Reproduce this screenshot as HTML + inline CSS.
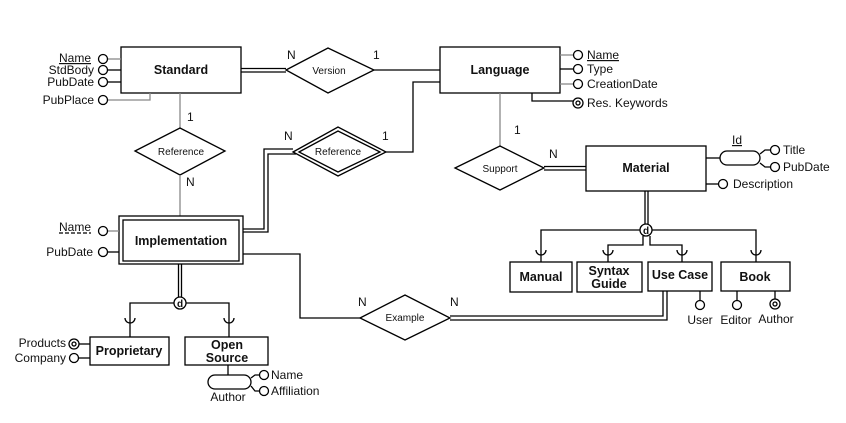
<!DOCTYPE html>
<html><head><meta charset="utf-8"><style>
html,body{margin:0;padding:0;background:#fff;}
svg{display:block;}
text{font-family:"Liberation Sans",Arial,sans-serif;fill:#111;}
.b{font-weight:bold;font-size:12.5px;}
.s{font-size:12px;}
.d{font-size:10px;}
</style></head><body>
<svg width="846" height="423" viewBox="0 0 846 423" xmlns="http://www.w3.org/2000/svg">
<g fill="none" stroke="#000" stroke-width="1.3">
<rect x="121" y="47" width="120" height="46"/>
<line x1="108" y1="59" x2="121" y2="59" stroke="#888"/>
<line x1="108" y1="70" x2="121" y2="70"/>
<line x1="108" y1="82" x2="121" y2="82"/>
<polyline points="108,100 150,100 150,93" stroke="#888"/>
<circle cx="103" cy="59" r="4.5"/><circle cx="103" cy="70" r="4.5"/><circle cx="103" cy="82" r="4.5"/><circle cx="103" cy="100" r="4.5"/>
<polygon points="286,70 328,48 374,70 328,93"/>
<line x1="241" y1="68.5" x2="286" y2="68.5"/><line x1="241" y1="72" x2="286" y2="72"/>
<line x1="374" y1="70" x2="440" y2="70"/>
<rect x="440" y="47" width="120" height="46"/>
<line x1="560" y1="55" x2="574" y2="55" stroke="#888"/>
<line x1="560" y1="69" x2="574" y2="69"/>
<line x1="560" y1="84" x2="574" y2="84" stroke="#888"/>
<polyline points="532,93 532,101 573,101"/>
<circle cx="578" cy="55" r="4.5"/><circle cx="578" cy="69" r="4.5"/><circle cx="578" cy="84" r="4.5"/>
<circle cx="578" cy="103" r="5"/><circle cx="578" cy="103" r="2"/>
<line x1="500" y1="93" x2="500" y2="146" stroke="#888"/>
<polygon points="455,168 500,146 544,168 500,190"/>
<line x1="544" y1="166.5" x2="586" y2="166.5"/><line x1="544" y1="170" x2="586" y2="170"/>
<rect x="586" y="146" width="120" height="45"/>
<line x1="706" y1="158" x2="720" y2="158"/>
<rect x="720" y="151" width="40" height="14" rx="7"/>
<polyline points="760,154 765,150 771,150"/>
<polyline points="760,163 765,167 771,167"/>
<circle cx="775" cy="150" r="4.5"/><circle cx="775" cy="167" r="4.5"/>
<line x1="706" y1="184" x2="719" y2="184"/>
<circle cx="723" cy="184" r="4.5"/>
<line x1="645" y1="191" x2="645" y2="224"/><line x1="648" y1="191" x2="648" y2="224"/>
<circle cx="646" cy="230" r="6" fill="#fff"/>
<polyline points="640,230 541,230 541,262"/>
<polyline points="643,236 643,245 608,245 608,262"/>
<polyline points="650,236 650,245 682,245 682,262"/>
<polyline points="652,230 756,230 756,262"/>
<path d="M536,250 a5,5 0 0 0 10,0"/>
<path d="M603,250 a5,5 0 0 0 10,0"/>
<path d="M677,250 a5,5 0 0 0 10,0"/>
<path d="M751,250 a5,5 0 0 0 10,0"/>
<rect x="510" y="262" width="62" height="30"/>
<rect x="577" y="262" width="65" height="30"/>
<rect x="648" y="262" width="64" height="29"/>
<rect x="721" y="262" width="69" height="29"/>
<line x1="700" y1="291" x2="700" y2="301"/><circle cx="700" cy="305" r="4.5"/>
<line x1="737" y1="291" x2="737" y2="301"/><circle cx="737" cy="305" r="4.5"/>
<line x1="775" y1="291" x2="775" y2="299"/><circle cx="775" cy="304" r="5"/><circle cx="775" cy="304" r="2"/>
<line x1="180" y1="93" x2="180" y2="128" stroke="#888"/>
<polygon points="135,151 180,128 225,151 180,175"/>
<line x1="180" y1="175" x2="180" y2="216" stroke="#888"/>
<polygon points="293,152 338,127 386,152 338,176"/>
<polygon points="299,152 338,131 380,152 338,172"/>
<polyline points="386,152 413,152 413,82 440,82"/>
<polyline points="243,229 264,229 264,149 293,149"/>
<polyline points="243,232 268,232 268,154 296,154"/>
<rect x="119" y="216" width="124" height="48"/>
<rect x="123" y="220" width="116" height="41"/>
<line x1="108" y1="231" x2="119" y2="231" stroke="#888"/>
<line x1="108" y1="252" x2="119" y2="252"/>
<circle cx="103" cy="231" r="4.5"/><circle cx="103" cy="252" r="4.5"/>
<line x1="59" y1="233" x2="91" y2="233" stroke-dasharray="4,2"/>
<polyline points="243,254 300,254 300,318 360,318"/>
<polygon points="360,318 405,295 450,318 405,340"/>
<polyline points="450,316 663,316 663,291"/>
<polyline points="450,320 667,320 667,291"/>
<line x1="178.5" y1="264" x2="178.5" y2="297"/><line x1="181.5" y1="264" x2="181.5" y2="297"/>
<circle cx="180" cy="303" r="6" fill="#fff"/>
<polyline points="174,303 130,303 130,337"/>
<polyline points="186,303 229,303 229,337"/>
<path d="M125,318 a5,5 0 0 0 10,0"/>
<path d="M224,318 a5,5 0 0 0 10,0"/>
<rect x="90" y="337" width="79" height="28"/>
<rect x="185" y="337" width="83" height="28"/>
<line x1="79" y1="344" x2="90" y2="344"/><line x1="79" y1="358" x2="90" y2="358"/>
<circle cx="74" cy="344" r="5"/><circle cx="74" cy="344" r="2"/>
<circle cx="74" cy="358" r="4.5"/>
<line x1="228" y1="365" x2="228" y2="375"/>
<rect x="208" y="375" width="43" height="14" rx="7"/>
<polyline points="251,378 255,375 259,375"/>
<polyline points="251,386 255,391 259,391"/>
<circle cx="264" cy="375" r="4.5"/><circle cx="264" cy="391" r="4.5"/>
</g>
<g>
<text x="646" y="234" text-anchor="middle" style="font-size:10px;font-weight:bold">d</text>
<text x="180" y="307" text-anchor="middle" style="font-size:10px;font-weight:bold">d</text>
<text x="181" y="74" text-anchor="middle" class="b">Standard</text>
<text x="500" y="74" text-anchor="middle" class="b">Language</text>
<text x="646" y="172" text-anchor="middle" class="b">Material</text>
<text x="181" y="245" text-anchor="middle" class="b">Implementation</text>
<text x="541" y="281" text-anchor="middle" class="b">Manual</text>
<text x="609" y="275" text-anchor="middle" class="b">Syntax</text>
<text x="609" y="288" text-anchor="middle" class="b">Guide</text>
<text x="680" y="279" text-anchor="middle" class="b">Use Case</text>
<text x="755" y="281" text-anchor="middle" class="b">Book</text>
<text x="129" y="355" text-anchor="middle" class="b">Proprietary</text>
<text x="227" y="349" text-anchor="middle" class="b">Open</text>
<text x="227" y="362" text-anchor="middle" class="b">Source</text>
<text x="329" y="74" text-anchor="middle" class="d">Version</text>
<text x="181" y="155" text-anchor="middle" class="d">Reference</text>
<text x="338" y="155" text-anchor="middle" class="d">Reference</text>
<text x="500" y="172" text-anchor="middle" class="d">Support</text>
<text x="405" y="321" text-anchor="middle" class="d">Example</text>
<text x="91" y="62" text-anchor="end" class="s" text-decoration="underline">Name</text>
<text x="94" y="74" text-anchor="end" class="s">StdBody</text>
<text x="94" y="86" text-anchor="end" class="s">PubDate</text>
<text x="94" y="104" text-anchor="end" class="s">PubPlace</text>
<text x="587" y="59" class="s" text-decoration="underline">Name</text>
<text x="587" y="73" class="s">Type</text>
<text x="587" y="88" class="s">CreationDate</text>
<text x="587" y="107" class="s">Res. Keywords</text>
<text x="737" y="144" text-anchor="middle" class="s" text-decoration="underline">Id</text>
<text x="783" y="154" class="s">Title</text>
<text x="783" y="171" class="s">PubDate</text>
<text x="733" y="188" class="s">Description</text>
<text x="91" y="231" text-anchor="end" class="s">Name</text>
<text x="93" y="256" text-anchor="end" class="s">PubDate</text>
<text x="66" y="347" text-anchor="end" class="s">Products</text>
<text x="66" y="362" text-anchor="end" class="s">Company</text>
<text x="228" y="401" text-anchor="middle" class="s">Author</text>
<text x="271" y="379" class="s">Name</text>
<text x="271" y="395" class="s">Affiliation</text>
<text x="700" y="324" text-anchor="middle" class="s">User</text>
<text x="736" y="324" text-anchor="middle" class="s">Editor</text>
<text x="776" y="323" text-anchor="middle" class="s">Author</text>
<text x="287" y="59" class="s">N</text>
<text x="373" y="59" class="s">1</text>
<text x="187" y="121" class="s">1</text>
<text x="186" y="186" class="s">N</text>
<text x="284" y="140" class="s">N</text>
<text x="382" y="140" class="s">1</text>
<text x="514" y="134" class="s">1</text>
<text x="549" y="158" class="s">N</text>
<text x="358" y="306" class="s">N</text>
<text x="450" y="306" class="s">N</text>
</g>
</svg>
</body></html>
